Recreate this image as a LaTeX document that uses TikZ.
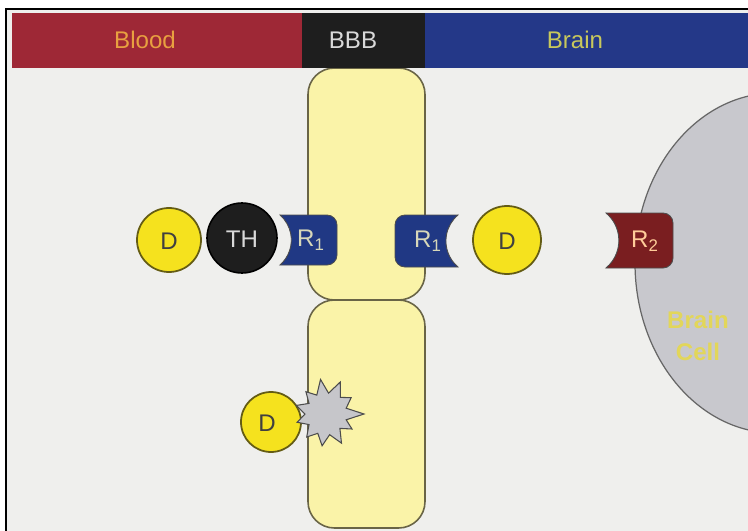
\documentclass[tikz,border=0pt]{standalone}
\usepackage{fontspec}
\setmainfont{Liberation Sans}

\definecolor{bloodred}{RGB}{158,40,54}
\definecolor{barrierblack}{RGB}{30,30,30}
\definecolor{brainblue}{RGB}{36,56,136}
\definecolor{paper}{RGB}{239,239,237}
\definecolor{wallfill}{RGB}{250,243,168}
\definecolor{wallline}{RGB}{105,100,70}
\definecolor{drugyellow}{RGB}{245,226,30}
\definecolor{drugline}{RGB}{100,92,20}
\definecolor{recblue}{RGB}{32,56,132}
\definecolor{recred}{RGB}{122,30,32}
\definecolor{cellgray}{RGB}{200,200,205}
\definecolor{burstgray}{RGB}{198,198,202}
\definecolor{bloodtext}{RGB}{232,160,64}
\definecolor{braintext}{RGB}{200,200,92}
\definecolor{rectext}{RGB}{215,215,185}
\definecolor{celltext}{RGB}{226,214,90}

\begin{document}
\begin{tikzpicture}[x=0.02cm,y=-0.02cm,
    txt/.style={font=\fontsize{13.7}{16}\selectfont,inner sep=0pt},
    wall/.style={fill=wallfill,draw=wallline,line width=0.9pt,rounded corners=15},
    drug/.style={fill=drugyellow,draw=drugline,line width=1pt},
    receptor/.style={draw=black!70,line width=0.5pt}]
    \useasboundingbox (0,0) rectangle (748,531);
    \clip (0,0) rectangle (748,531);

    % paper and frame
    \fill[white] (0,0) rectangle (748,531);
    \fill[paper] (6,9) rectangle (748,531);
    \draw[black,line width=1.1pt] (6,531) -- (6,9) -- (748,9);

    % brain cell
    \draw[fill=cellgray,draw=black!60,line width=0.7pt] (775,263) ellipse[x radius=140,y radius=170];
    \node[txt,font=\fontsize{13.7}{18}\selectfont\bfseries,text=celltext,align=center] (celllbl) at (698,336) {Brain\\Cell};

    % endothelial cells of the barrier
    \draw[wall] (308,68) rectangle (425,300);
    \draw[wall] (308,300) rectangle (425,528);

    % header bar
    \fill[bloodred] (12,13) rectangle (302,68);
    \fill[barrierblack] (302,13) rectangle (425,68);
    \fill[brainblue] (425,13) rectangle (748,68);
    \node[txt,text=bloodtext] (bloodlbl) at (145,40) {Blood};
    \node[txt,text=black!15] (bbblbl) at (353,40) {BBB};
    \node[txt,text=braintext] (brainlbl) at (575,40) {Brain};

    % blood side: drug carried by the trojan horse
    \draw[drug] (169,240) circle[radius=32];
    \draw[fill=barrierblack,draw=black,line width=0.9pt] (242,238) circle[radius=35];
    \draw[receptor,fill=recblue] (280,215) -- (327,215) arc[start angle=-90,end angle=0,radius=10]
        -- (337,255) arc[start angle=0,end angle=90,radius=10]
        -- (280,265) arc[start angle=48.7,end angle=-48.7,radius=33.3] -- cycle;
    \node[txt,text=black!75] (drugA) at (169,241) {D};
    \node[txt,text=black!15] (horse) at (242,239) {TH};
    \node[txt,text=rectext] (recA) at (311,240) {R\textsubscript{1}};

    % brain side: released drug
    \draw[receptor,fill=recblue] (458,215) -- (405,215) arc[start angle=-90,end angle=-180,radius=10]
        -- (395,257) arc[start angle=180,end angle=90,radius=10]
        -- (458,267) arc[start angle=130.2,end angle=229.8,radius=34.06] -- cycle;
    \draw[drug] (507,240) circle[radius=34];
    \draw[receptor,fill=recred] (606,213) -- (663,213) arc[start angle=-90,end angle=0,radius=10]
        -- (673,258) arc[start angle=0,end angle=90,radius=10]
        -- (606,268) arc[start angle=50.1,end angle=-50.1,radius=35.85] -- cycle;
    \node[txt,text=rectext] (recB) at (428,241) {R\textsubscript{1}};
    \node[txt,text=black!75] (drugB) at (507,241) {D};
    \node[txt,text=orange!40!white] (recC) at (645,241) {R\textsubscript{2}};

    % drug stopped at the wall
    \draw[drug] (271,422) circle[radius=30];
    \draw[fill=burstgray,draw=black!70,line width=0.6pt,shift={(326,414)}]
        (0:38) -- (16:21) -- (30:30) -- (46:20) -- (62:33) -- (80:21) -- (97:32)
        -- (113:21) -- (130:30) -- (148:20) -- (164:30) -- (180:21) -- (196:31)
        -- (212:20) -- (228:30) -- (244:21) -- (261:35) -- (277:21) -- (294:35)
        -- (311:22) -- (327:30) -- (344:21) -- cycle;
    \node[txt,text=black!75] (drugC) at (267,423) {D};
\end{tikzpicture}
\end{document}
